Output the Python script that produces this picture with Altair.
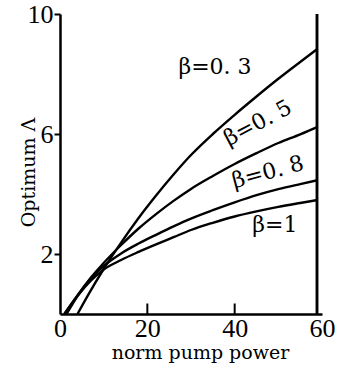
import altair as alt
import pandas as pd

# Curves (x = norm pump power, y = optimum Lambda)
b03_x = [4, 6, 8, 10, 14, 18, 22, 26, 30, 35, 40, 45, 50, 55, 59]
b03_y = [0, 0.52, 1.02, 1.5, 2.38, 3.2, 3.95, 4.65, 5.3, 6.0, 6.64, 7.25, 7.84, 8.4, 8.84]

b05_x = [1.5, 4, 7, 10, 14, 18, 22, 26, 30, 35, 40, 45, 50, 55, 59]
b05_y = [0, 0.6, 1.2, 1.7, 2.3, 2.85, 3.33, 3.77, 4.17, 4.6, 5.0, 5.36, 5.7, 5.99, 6.24]

b08_x = [1, 4, 7, 10, 14, 18, 22, 26, 30, 35, 40, 45, 50, 55, 59]
b08_y = [0, 0.62, 1.17, 1.6, 2.02, 2.35, 2.64, 2.92, 3.18, 3.46, 3.72, 3.96, 4.16, 4.33, 4.46]

b1_x = [1, 4, 7, 10, 14, 18, 22, 26, 30, 35, 40, 45, 50, 55, 59]
b1_y = [0, 0.6, 1.1, 1.48, 1.8, 2.07, 2.32, 2.56, 2.8, 3.04, 3.25, 3.42, 3.57, 3.7, 3.8]

series_names = ["β=0. 3", "β=0. 5", "β=0. 8", "β=1"]

# Annotation labels
label_text = ["β=0. 3", "β=0. 5", "β=0. 8", "β=1"]
label_x = [35.5, 45.3, 47.6, 49.2]
label_y = [8.23, 6.37, 4.73, 2.97]
label_angle = [0, 332, 345, 0]

x_ticks_labels = [0, 20, 40, 60]
y_ticks_labels = [2, 6, 10]
inner_ticks = [20, 40]

rows = []
for name, xs_, ys_ in zip(series_names,
                          [b03_x, b05_x, b08_x, b1_x],
                          [b03_y, b05_y, b08_y, b1_y]):
    for i, (a, b) in enumerate(zip(xs_, ys_)):
        rows.append({"series": name, "x": a, "y": b, "order": i})
df = pd.DataFrame(rows)

lab_df = pd.DataFrame({"t": label_text, "x": label_x, "y": label_y, "a": label_angle})
tick_df = pd.DataFrame({"x": inner_ticks, "y0": [0, 0], "y1": [0.35, 0.35]})

W, H = 262, 300
FONT = "Liberation Serif"
AFONT = "DejaVu Serif"

xs = alt.Scale(domain=[0, 60], nice=False, zero=True)
ys = alt.Scale(domain=[0, 10], nice=False, zero=True)

lines = alt.Chart(df).mark_line(color="black", strokeWidth=2.4, interpolate="monotone").encode(
    x=alt.X("x:Q", scale=xs, axis=alt.Axis(
        values=x_ticks_labels, ticks=False, grid=False, labelFontSize=26, labelFont=FONT,
        labelPadding=1, domainColor="black", domainWidth=2.5, labelColor="black",
        title="norm pump power", titleFont=AFONT, titleFontSize=19,
        titleFontWeight="normal", titleX=140, titleY=44, titleBaseline="alphabetic",
        titleColor="black", labelFlush=False)),
    y=alt.Y("y:Q", scale=ys, axis=alt.Axis(
        values=y_ticks_labels, ticks=True, tickSize=6, tickWidth=2, tickColor="black",
        grid=False, labelFontSize=26, labelFont=FONT, labelPadding=1,
        domainColor="black", domainWidth=2.5, labelColor="black",
        title="Optimum Λ", titleFont=AFONT, titleFontSize=19,
        titleFontWeight="normal", titleX=-32, titleY=158, titleAngle=270,
        titleAlign="center", titleBaseline="middle", titleColor="black", labelFlush=False)),
    detail="series:N",
    order="order:Q",
)

labels = alt.Chart(lab_df).mark_text(font=AFONT, fontSize=22, color="black").encode(
    x=alt.X("x:Q", scale=xs),
    y=alt.Y("y:Q", scale=ys),
    text="t:N",
    angle=alt.Angle("a:Q", scale=None),
)

ticks = alt.Chart(tick_df).mark_rule(color="black", strokeWidth=2).encode(
    x=alt.X("x:Q", scale=xs),
    y=alt.Y("y0:Q", scale=ys),
    y2="y1:Q",
)

right_frame = alt.Chart(tick_df).mark_rule(color="black", strokeWidth=2.5).encode(
    x=alt.value(257), y=alt.value(0), y2=alt.value(H)
)

chart = alt.layer(lines, labels, ticks, right_frame).properties(
    width=W, height=H,
    autosize=alt.AutoSizeParams(type="none"),
    padding={"left": 60, "top": 14, "right": 23, "bottom": 57},
    background="white",
).configure_view(stroke=None)

chart.save("out.html", embed_options={"renderer": "svg", "actions": False})
